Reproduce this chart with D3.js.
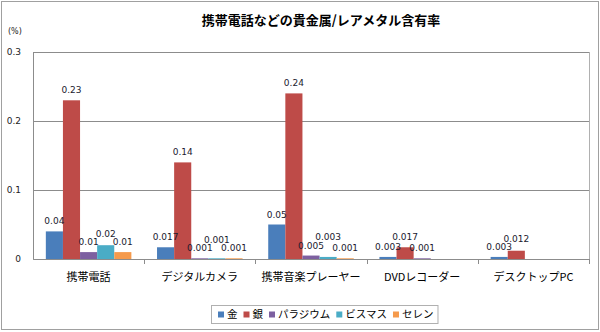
<!DOCTYPE html>
<html>
<head>
<meta charset="utf-8">
<script src="https://cdn.jsdelivr.net/npm/d3@7/dist/d3.min.js"></script>
<style>
  html, body { margin: 0; padding: 0; background: #fff; }
  svg { display: block; }
</style>
</head>
<body>
<svg id="chart" width="600" height="332"></svg>
<script>
// Precious / rare metal content by product (%)
const categories = ["携帯電話", "デジタルカメラ", "携帯音楽プレーヤー", "DVDレコーダー", "デスクトップPC"];
const seriesNames = ["金", "銀", "パラジウム", "ビスマス", "セレン"];
const gold      = [0.04, 0.017, 0.05, 0.003, 0.003];
const silver    = [0.23, 0.14, 0.24, 0.017, 0.012];
const palladium = [0.01, 0.001, 0.005, 0.001, null];
const bismuth   = [0.02, 0.001, 0.003, null, null];
const selenium  = [0.01, 0.001, 0.001, null, null];
const yTicks = [0, 0.1, 0.2, 0.3];
const yTickLabels = ["0", "0.1", "0.2", "0.3"];
const colors = ["#4a7ebb", "#be4b48", "#7d60a0", "#4aacc6", "#f59a4c"];

const seriesValues = [gold, silver, palladium, bismuth, selenium];

const svg = d3.select("#chart");
const W = 600, H = 332;
const plot = { left: 33, right: 589, top: 52, bottom: 259 };
const jpFont = "'Noto Sans CJK JP', 'Noto Sans', sans-serif";
const numFont = "'DejaVu Sans', Verdana, sans-serif";

// outer frame
svg.append("rect")
  .attr("x", 1.5).attr("y", 1.5)
  .attr("width", W - 3).attr("height", H - 4)
  .attr("fill", "#fff").attr("stroke", "#a0a0a0").attr("stroke-width", 1);

// title
svg.append("text")
  .attr("x", 321).attr("y", 25)
  .attr("text-anchor", "middle")
  .attr("font-family", jpFont).attr("font-weight", "bold").attr("font-size", 13)
  .attr("fill", "#000")
  .text("携帯電話などの貴金属/レアメタル含有率");

const x0 = d3.scaleBand().domain(categories).range([plot.left, plot.right]).paddingInner(0).paddingOuter(0);
const x1 = d3.scaleBand().domain(seriesNames).range([0, x0.bandwidth()]).paddingInner(0).paddingOuter(0.75);
const y = d3.scaleLinear().domain([0, 0.3]).range([plot.bottom, plot.top]);

// plot area box
svg.append("rect")
  .attr("x", plot.left + 0.5).attr("y", plot.top + 0.5)
  .attr("width", plot.right - plot.left).attr("height", plot.bottom - plot.top)
  .attr("fill", "none").attr("stroke", "#b0b0b0");

// horizontal gridlines
svg.append("g")
  .selectAll("line")
  .data(yTicks.filter(d => d > 0))
  .join("line")
  .attr("x1", plot.left).attr("x2", plot.right)
  .attr("y1", d => Math.round(y(d)) + 0.5).attr("y2", d => Math.round(y(d)) + 0.5)
  .attr("stroke", "#8c8c8c");

// y axis labels
const yAxis = d3.axisLeft(y).tickValues(yTicks)
  .tickFormat((d, i) => yTickLabels[i]).tickSize(0).tickPadding(12);
const yg = svg.append("g").attr("transform", `translate(${plot.left},0)`).call(yAxis);
yg.select(".domain").attr("stroke", "#8c8c8c");
yg.selectAll("text").attr("font-family", numFont).attr("font-size", 9).attr("fill", "#222");

// unit label
svg.append("text")
  .attr("x", 8).attr("y", 34)
  .attr("font-family", numFont).attr("font-size", 8).attr("fill", "#222")
  .text("(%)");

// x axis with tick marks between categories
const xAxis = d3.axisBottom(x0).tickSize(0).tickPadding(14);
const xg = svg.append("g").attr("transform", `translate(0,${plot.bottom})`).call(xAxis);
xg.select(".domain").attr("stroke", "#8c8c8c");
xg.selectAll("text").attr("font-family", jpFont).attr("font-size", 11).attr("fill", "#000");
xg.selectAll(".tick line").remove();
const boundaries = categories.slice(1).map(c => x0(c)).concat([plot.right]);
svg.append("g")
  .selectAll("line")
  .data(boundaries)
  .join("line")
  .attr("x1", d => Math.round(d) + 0.5).attr("x2", d => Math.round(d) + 0.5)
  .attr("y1", plot.bottom).attr("y2", plot.bottom + 5)
  .attr("stroke", "#8c8c8c");

// bars
const groups = svg.append("g").selectAll("g")
  .data(categories)
  .join("g")
  .attr("transform", d => `translate(${x0(d)},0)`);

groups.selectAll("rect")
  .data((c, ci) => seriesNames.map((s, si) => ({ s, si, v: seriesValues[si][ci] })).filter(d => d.v != null))
  .join("rect")
  .attr("x", d => x1(d.s))
  .attr("width", x1.bandwidth())
  .attr("y", d => y(d.v))
  .attr("height", d => y(0) - y(d.v))
  .attr("fill", d => colors[d.si]);

// value labels; a label that would collide with its left neighbour is lifted above it
groups.each(function (c, ci) {
  const g = d3.select(this);
  let prev = null;
  seriesNames.forEach((s, si) => {
    const v = seriesValues[si][ci];
    if (v == null) { prev = null; return; }
    const cx = x1(s) + x1.bandwidth() / 2;
    const t = g.append("text")
      .attr("x", cx)
      .attr("text-anchor", "middle")
      .attr("font-family", numFont).attr("font-size", 9)
      .attr("fill", "#1a1a2e")
      .text(String(v));
    const w = t.node().getComputedTextLength();
    let ly = y(v) - 7;
    if (prev && Math.abs(ly - prev.y) < 8 && (cx - w / 2) < (prev.x + prev.w / 2)) {
      ly = Math.abs(ly - prev.y) < 4 ? prev.y - 8.5 : Math.min(ly, prev.y - 8);
    }
    t.attr("y", ly);
    prev = { x: cx, w, y: ly };
  });
});

// legend
const legendX = 218, legendY = 318;
const legendBox = svg.append("rect")
  .attr("y", 305.5).attr("height", 18)
  .attr("fill", "#fff").attr("stroke", "#b0b0b0");
const legend = svg.append("g").attr("transform", `translate(${legendX},${legendY})`);
const items = legend.selectAll("g").data(seriesNames).join("g");
items.append("rect").attr("width", 6).attr("height", 6).attr("y", -6.5)
  .attr("fill", (d, i) => colors[i]);
items.append("text").attr("x", 9).attr("y", 0)
  .attr("font-family", jpFont).attr("font-size", 10.5).attr("fill", "#000")
  .text(d => d);
let lx = 0;
items.each(function () {
  const g = d3.select(this);
  g.attr("transform", `translate(${lx},0)`);
  lx += 9 + g.select("text").node().getComputedTextLength() + 6;
});
const legendW = lx - 6;
legendBox.attr("x", legendX - 6.5).attr("width", legendW + 11);
</script>
</body>
</html>
